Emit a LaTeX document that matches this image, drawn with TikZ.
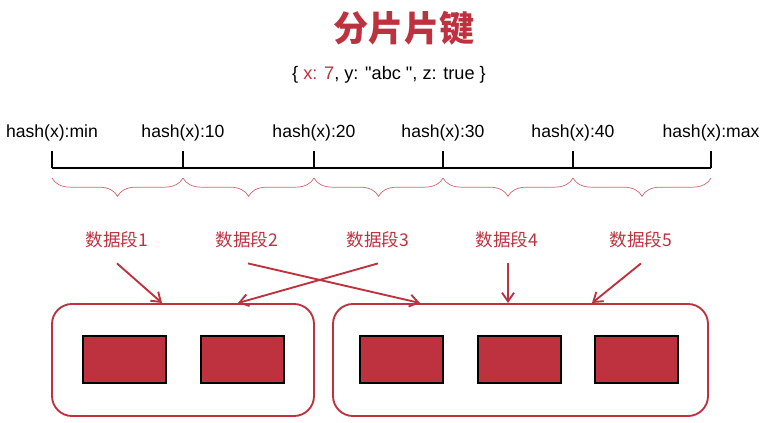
\documentclass[tikz,border=0pt]{standalone}
\usepackage{fontspec}
\setmainfont{Liberation Sans}[Ligatures=TeXOff]
\newfontfamily\cjk{Noto Sans CJK SC}
\usetikzlibrary{arrows.meta,decorations.pathreplacing}
\definecolor{shardred}{RGB}{190,50,64}

\begin{document}
\begin{tikzpicture}[x=0.03cm,y=-0.03cm]

    % Define styles
    \tikzset{
        axis line/.style={line width=2.4pt, draw=black},
        seg brace/.style={draw=shardred!75, line width=0.6pt, decorate,
            decoration={brace, mirror, amplitude=0.55cm}},
        hash label/.style={font=\fontsize{15}{18}\selectfont, inner sep=0pt},
        seg label/.style={font=\cjk\fontsize{15}{18}\selectfont, text=shardred, inner sep=0pt},
        route/.style={draw=shardred, line width=1.6pt,
            -{Straight Barb[length=0.26cm, width=0.36cm, line width=1.6pt]}},
        group box/.style={draw=shardred, line width=1.6pt, rounded corners=0.6cm,
            minimum height=3.36cm, inner sep=0pt},
        shard box/.style={draw=black, fill=shardred, line width=2pt,
            minimum width=2.49cm, minimum height=1.41cm, inner sep=0pt}
    }

    % Fix the canvas
    \useasboundingbox (0,0) rectangle (761,423);

    % Title and document
    \node[font=\cjk\bfseries\fontsize{30}{34}\selectfont, text=shardred] (title) at (404,28) {分片片键};
    \node[font=\fontsize{15.5}{18}\selectfont] (doc) at (389,75)
        {\{ {\color{shardred}x: 7}, y: "abc ", z: true \}};

    % Hash axis with ticks
    \draw[axis line] (52,168) -- (711,168);
    \foreach \x/\name/\txt in {52/hmin/min, 183/h10/10, 314/h20/20, 443/h30/30, 573/h40/40, 711/hmax/max} {
        \draw[axis line] (\x,151) -- (\x,168);
        \coordinate (t-\name) at (\x,178);
        \node[hash label] (\name) at (\x,133) {hash(x):\txt};
    }

    % Braces for the chunks
    \draw[seg brace] (t-hmin) -- (t-h10);
    \draw[seg brace] (t-h10) -- (t-h20);
    \draw[seg brace] (t-h20) -- (t-h30);
    \draw[seg brace] (t-h30) -- (t-h40);
    \draw[seg brace] (t-h40) -- (t-hmax);

    % Chunk labels
    \node[seg label] (seg1) at (117,240) {数据段1};
    \node[seg label] (seg2) at (247,240) {数据段2};
    \node[seg label] (seg3) at (378,240) {数据段3};
    \node[seg label] (seg4) at (507,240) {数据段4};
    \node[seg label] (seg5) at (641,240) {数据段5};

    % Shard groups
    \node[group box, minimum width=7.86cm] (grpL) at (183,360) {};
    \node[group box, minimum width=11.25cm] (grpR) at (520.5,360) {};

    % Shards inside the groups
    \node[shard box] (sh1) at (124.5,359.5) {};
    \node[shard box] (sh2) at (242.5,359.5) {};
    \node[shard box] (sh3) at (401.5,359.5) {};
    \node[shard box] (sh4) at (519.5,359.5) {};
    \node[shard box] (sh5) at (636.5,359.5) {};

    % Arrow targets on the group tops
    \coordinate (in1) at (162,303);
    \coordinate (in2) at (420,303);
    \coordinate (in3) at (238,303);
    \coordinate (in4) at (508,303);
    \coordinate (in5) at (592,303);

    % Routing arrows
    \draw[route] ([yshift=-0.45cm]seg1.south) -- (in1);
    \draw[route] ([yshift=-0.45cm,xshift=0.03cm]seg2.south) -- (in2);
    \draw[route] ([yshift=-0.45cm]seg3.south) -- (in3);
    \draw[route] ([yshift=-0.45cm,xshift=0.03cm]seg4.south) -- (in4);
    \draw[route] ([yshift=-0.45cm]seg5.south) -- (in5);

\end{tikzpicture}
\end{document}
